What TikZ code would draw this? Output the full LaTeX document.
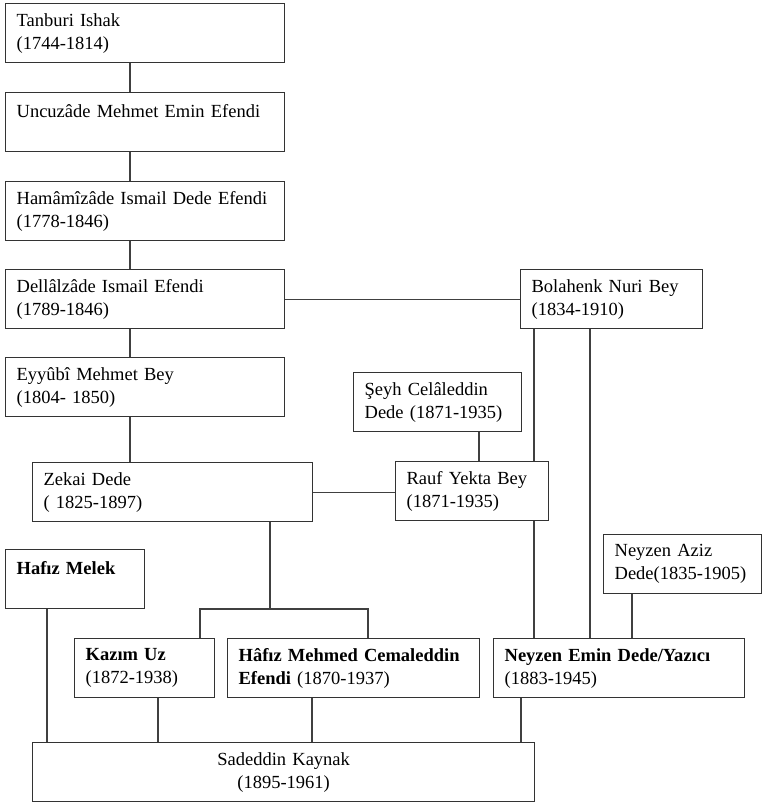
\documentclass[tikz,border=0pt]{standalone}
\usepackage{fontspec}
\setmainfont[WordSpace=0.85]{Liberation Serif}

\tikzset{
  person/.style={draw=black!80, line width=1.3pt, anchor=north west, align=left,
    text width=#1, inner xsep=11pt, inner ysep=0pt, minimum height=59pt,
    font=\fontsize{18.5}{23}\selectfont},
  link/.style={draw=black!75, line width=1.3pt}
}

\begin{document}
\begin{tikzpicture}[x=1pt,y=-1pt]
    \useasboundingbox (0,0) rectangle (762,802);
    % Boxes
    \node[person=257pt] (tanburi)  at (5,3)   {Tanburi Ishak\\(1744-1814)};
    \node[person=257pt] (uncuzade) at (5,92)  {Uncuzâde Mehmet Emin Efendi\\\mbox{}};
    \node[person=257pt] (hamami)   at (5,181) {Hamâmîzâde Ismail Dede Efendi\\(1778-1846)};
    \node[person=257pt] (dellal)   at (5,269) {Dellâlzâde Ismail Efendi\\(1789-1846)};
    \node[person=257pt] (eyyubi)   at (5,357) {Eyyûbî Mehmet Bey\\(1804- 1850)};
    \node[person=258pt] (zekai)    at (32,462) {Zekai Dede\\( 1825-1897)};
    \node[person=160pt] (bolahenk) at (520,269) {Bolahenk Nuri Bey\\(1834-1910)};
    \node[person=146pt] (seyh)     at (353,372) {Şeyh Celâleddin\\Dede (1871-1935)};
    \node[person=131pt] (rauf)     at (395,461) {Rauf Yekta Bey\\(1871-1935)};
    \node[person=136pt] (aziz)     at (603,534) {Neyzen Aziz\\Dede(1835-1905)};
    \node[person=117pt] (melek)    at (5,549)  {\textbf{Hafız Melek}\\\mbox{}};
    \node[person=118pt] (kazim)    at (74,638) {\textbf{Kazım Uz}\\(1872-1938)};
    \node[person=230pt] (hafiz)    at (227,638) {\textbf{Hâfız Mehmed Cemaleddin}\\\textbf{Efendi} (1870-1937)};
    \node[person=229pt] (emin)     at (493,638) {\textbf{Neyzen Emin Dede/Yazıcı}\\(1883-1945)};
    \node[person=480pt, align=center] (sadeddin) at (32,742) {Sadeddin Kaynak\\(1895-1961)};
    % Columns
    \coordinate (xspine) at (130,0);
    \coordinate (xseyh) at (479,0);
    \coordinate (xbola) at (534,0);
    \coordinate (xbolb) at (590,0);
    \coordinate (xaziz) at (632,0);
    \coordinate (xzekai) at (270,0);
    \coordinate (xkazim) at (200,0);
    \coordinate (xhafiz) at (368,0);
    \coordinate (xmelek) at (47,0);
    \coordinate (xkazimd) at (158,0);
    \coordinate (xhafizd) at (312,0);
    \coordinate (xemin) at (521,0);
    \coordinate (fork) at (270,609);
    % Lines
    \foreach \a/\b in {tanburi/uncuzade,uncuzade/hamami,hamami/dellal,dellal/eyyubi,eyyubi/zekai}
      \draw[link] (\a.south -| xspine) -- (\b.north -| xspine);
    \draw[link] (dellal.east) -- (bolahenk.west);
    \draw[link] (zekai.east) -- (zekai.east -| rauf.west);
    \draw[link] (seyh.south -| xseyh) -- (rauf.north -| xseyh);
    \draw[link] (bolahenk.south -| xbola) -- (rauf.north -| xbola);
    \draw[link] (rauf.south -| xbola) -- (emin.north -| xbola);
    \draw[link] (bolahenk.south -| xbolb) -- (emin.north -| xbolb);
    \draw[link] (aziz.south -| xaziz) -- (emin.north -| xaziz);
    \draw[link] (zekai.south -| xzekai) -- (fork);
    \draw[link] (kazim.north -| xkazim) |- (fork) -| (hafiz.north -| xhafiz);
    \draw[link] (melek.south -| xmelek) -- (sadeddin.north -| xmelek);
    \draw[link] (kazim.south -| xkazimd) -- (sadeddin.north -| xkazimd);
    \draw[link] (hafiz.south -| xhafizd) -- (sadeddin.north -| xhafizd);
    \draw[link] (emin.south -| xemin) -- (sadeddin.north -| xemin);
  \end{tikzpicture}
\end{document}
